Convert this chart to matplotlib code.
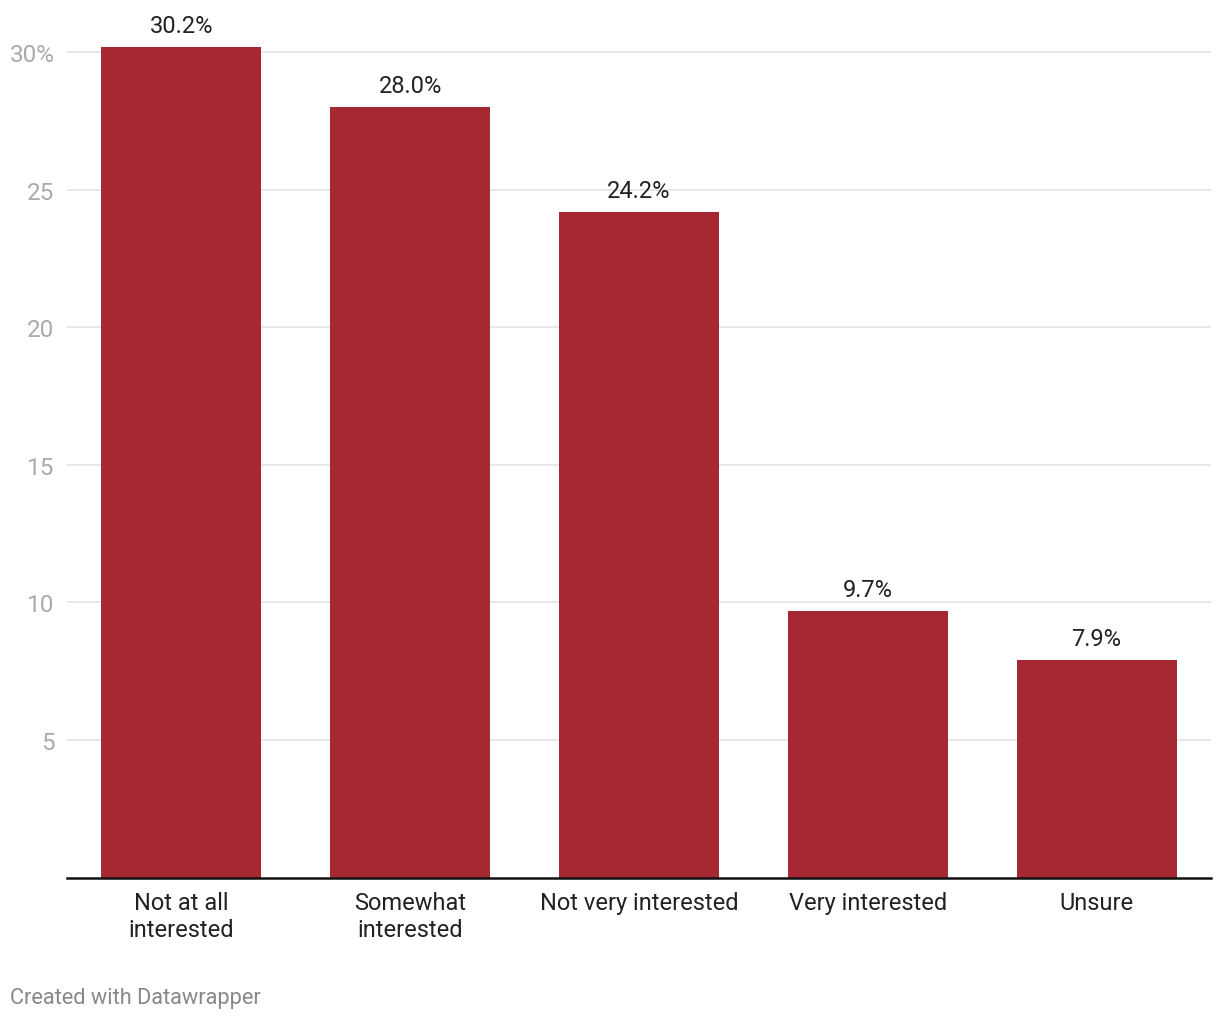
import matplotlib.pyplot as plt

plt.rcParams['font.family'] = ['Roboto', 'DejaVu Sans']

# data
categories = ["Not at all\ninterested", "Somewhat\ninterested", "Not very interested",
              "Very interested", "Unsure"]
values = [30.2, 28.0, 24.2, 9.7, 7.9]
yticks = [5, 10, 15, 20, 25, 30]
ytick_labels = ["5", "10", "15", "20", "25", "30%"]

W, H = 1220, 1020
fig = plt.figure(figsize=(W / 100, H / 100), dpi=100)

# axes placed in pixel terms: x 67..1211, value 0 at y=878, 30 at y=53
px_per_unit = (878 - 53) / 30.0
ytop = 30.3
ax_top = 878 - ytop * px_per_unit
ax = fig.add_axes([67 / W, 1 - 878.5 / H, (1211 - 67) / W, (878.5 - ax_top) / H])

x = range(len(categories))
ax.bar(x, values, width=0.7, color="#a62833", zorder=2)
ax.set_xlim(-0.5, len(categories) - 0.5)
ax.set_ylim(0, ytop)

for xi, v in zip(x, values):
    ax.annotate(f"{v:.1f}%", (xi, v), xytext=(0, 7), textcoords="offset points",
                ha="center", va="bottom", fontsize=17, color="#222222")

ax.set_yticks(yticks)
ax.set_yticklabels(ytick_labels, color="#aaaaaa", fontsize=17.5)
ax.yaxis.grid(True, color="#e5e5e5", linewidth=1.3, zorder=0)
ax.tick_params(axis="y", length=0, pad=9)

ax.set_xticks(list(x))
ax.set_xticklabels(categories, fontsize=17, color="#222222", linespacing=1.22)
ax.tick_params(axis="x", length=0, pad=9.5)

for s in ["top", "right", "left"]:
    ax.spines[s].set_visible(False)
ax.spines["bottom"].set_color("#111111")
ax.spines["bottom"].set_linewidth(1.8)
ax.spines["bottom"].set_zorder(3)

fig.text(10 / W, 1 - 999 / H, "Created with Datawrapper", fontsize=15.7,
         color="#888888", ha="left", va="center")

fig.savefig("out.png", dpi=100, facecolor="white")
